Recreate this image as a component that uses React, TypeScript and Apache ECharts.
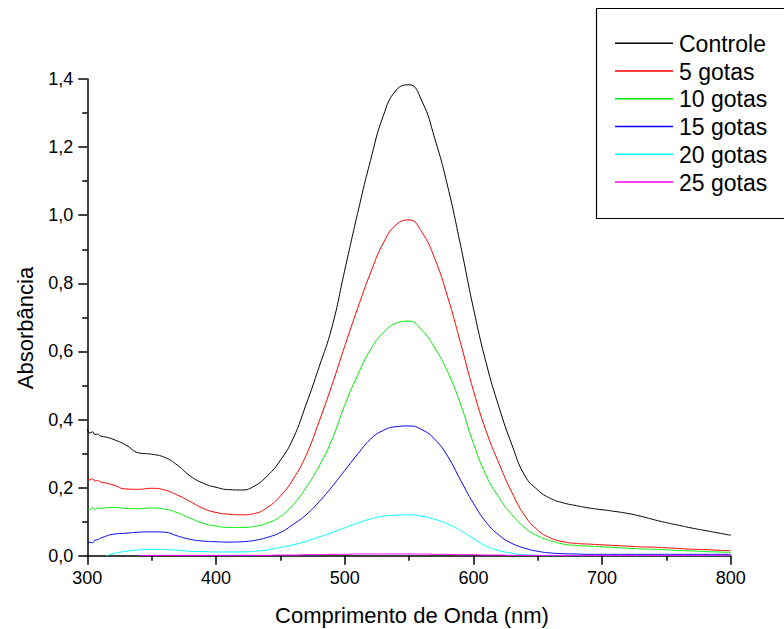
import React, { useEffect, useRef } from "react";
import * as echarts from "echarts";

const wavelengths = [
  300, 302, 304, 306, 308, 310, 315, 320, 330, 340, 350, 360, 370, 380, 390, 400,
  410, 420, 430, 440, 450, 460, 470, 480, 490, 500, 510, 520, 530, 540, 550, 560,
  570, 580, 590, 600, 610, 620, 630, 640, 650, 660, 670, 680, 690, 700, 710, 720,
  730, 740, 750, 760, 770, 780, 790, 800,
];

const controle = [
  0.372, 0.360, 0.364, 0.356, 0.357, 0.352, 0.348, 0.342, 0.325, 0.302, 0.298, 0.289, 0.266, 0.234, 0.213, 0.201,
  0.194, 0.193, 0.205, 0.235, 0.280, 0.345, 0.444, 0.553, 0.670, 0.838, 1.005, 1.160, 1.292, 1.367, 1.383, 1.335,
  1.225, 1.085, 0.912, 0.727, 0.565, 0.435, 0.325, 0.235, 0.193, 0.168, 0.155, 0.147, 0.140, 0.135, 0.130, 0.124,
  0.116, 0.106, 0.097, 0.089, 0.081, 0.074, 0.067, 0.060,
];

const gotas5 = [
  0.227, 0.222, 0.226, 0.219, 0.221, 0.217, 0.213, 0.208, 0.196, 0.195, 0.198, 0.193, 0.178, 0.159, 0.139, 0.127,
  0.122, 0.120, 0.124, 0.142, 0.175, 0.225, 0.295, 0.393, 0.500, 0.615, 0.726, 0.830, 0.918, 0.972, 0.986, 0.950,
  0.872, 0.760, 0.625, 0.485, 0.365, 0.270, 0.185, 0.117, 0.075, 0.052, 0.041, 0.036, 0.034, 0.032, 0.030, 0.028,
  0.026, 0.025, 0.023, 0.021, 0.019, 0.018, 0.016, 0.015,
];

const gotas10 = [
  0.139, 0.135, 0.141, 0.136, 0.140, 0.139, 0.141, 0.142, 0.139, 0.138, 0.140, 0.137, 0.126, 0.110, 0.095, 0.087,
  0.083, 0.083, 0.086, 0.096, 0.115, 0.150, 0.200, 0.262, 0.340, 0.442, 0.530, 0.605, 0.655, 0.683, 0.689, 0.662,
  0.610, 0.540, 0.445, 0.330, 0.235, 0.170, 0.120, 0.082, 0.058, 0.044, 0.034, 0.030, 0.028, 0.026, 0.024, 0.022,
  0.020, 0.019, 0.017, 0.015, 0.014, 0.012, 0.011, 0.010,
];

const gotas15 = [
  0.034, 0.040, 0.038, 0.046, 0.047, 0.051, 0.058, 0.063, 0.066, 0.069, 0.070, 0.069, 0.058, 0.048, 0.043, 0.041,
  0.040, 0.041, 0.045, 0.054, 0.068, 0.092, 0.120, 0.158, 0.202, 0.250, 0.298, 0.342, 0.368, 0.379, 0.381, 0.370,
  0.342, 0.292, 0.222, 0.154, 0.098, 0.060, 0.036, 0.022, 0.013, 0.008, 0.006, 0.005, 0.004, 0.004, 0.004, 0.004,
  0.004, 0.004, 0.004, 0.004, 0.004, 0.004, 0.004, 0.004,
];

const gotas20 = [
  null, null, null, null, null, null, 0.0, 0.006, 0.013, 0.017, 0.019, 0.018, 0.016, 0.013, 0.012, 0.011,
  0.011, 0.011, 0.013, 0.017, 0.024, 0.032, 0.042, 0.055, 0.068, 0.082, 0.096, 0.108, 0.116, 0.119, 0.120, 0.116,
  0.107, 0.093, 0.074, 0.050, 0.028, 0.015, 0.007, 0.003, 0.001, 0.0, 0.0, 0.0, 0.0, 0.0, 0.0, 0.0,
  0.0, 0.0, 0.0, 0.0, 0.0, 0.0, 0.0, 0.0,
];

const gotas25 = [
  null, null, null, null, null, null, null, null, null, 0.0, 0.001, 0.001, 0.001, 0.001, 0.001, 0.001,
  0.001, 0.001, 0.001, 0.001, 0.002, 0.002, 0.003, 0.003, 0.004, 0.004, 0.005, 0.005, 0.005, 0.005, 0.005, 0.005,
  0.004, 0.004, 0.003, 0.003, 0.002, 0.002, 0.001, 0.001, 0.001, 0.001, 0.001, 0.001, 0.001, 0.001, 0.001, 0.001,
  0.001, 0.001, 0.001, 0.001, 0.001, 0.001, 0.001, 0.001,
];

const seriesNames = ["Controle", "5 gotas", "10 gotas", "15 gotas", "20 gotas", "25 gotas"];
const seriesValues = [controle, gotas5, gotas10, gotas15, gotas20, gotas25];
const seriesColors = ["#000000", "#ff0000", "#00ee00", "#0000ff", "#00ffff", "#ff00ff"];

const xTitle = "Comprimento de Onda (nm)";
const yTitle = "Absorbância";

const FONT = 'Arial, "Liberation Sans", sans-serif';

export default function App() {
  const ref = useRef<HTMLDivElement>(null);
  useEffect(() => {
    if (!ref.current) return;
    const chart = echarts.init(ref.current, null, { renderer: "svg" });
    const series = seriesNames.map((name, i) => ({
      name,
      type: "line",
      data: wavelengths.map((w, j) => [w, seriesValues[i][j]]),
      showSymbol: false,
      symbol: "none",
      smooth: 0.5,
      connectNulls: false,
      lineStyle: { color: seriesColors[i], width: 1 },
      itemStyle: { color: seriesColors[i] },
      emphasis: { disabled: true },
    }));

    const legendTop = 43.3;
    const legendStep = 27.75;
    const legendGraphics: any[] = [];
    seriesNames.forEach((n, i) => {
      const y = legendTop + i * legendStep;
      legendGraphics.push({
        type: "line",
        shape: { x1: 615, y1: y, x2: 673, y2: y },
        style: { stroke: seriesColors[i], lineWidth: 1.4 },
        silent: true,
      });
      legendGraphics.push({
        type: "text",
        x: 679,
        y: y + 0.5,
        style: {
          text: n,
          fontSize: 23,
          fontFamily: FONT,
          fill: "#000",
          align: "left",
          verticalAlign: "middle",
        },
        silent: true,
      });
    });

    chart.setOption({
      animation: false,
      backgroundColor: "#ffffff",
      textStyle: { fontFamily: FONT },
      grid: {
        left: 87.3,
        right: 784 - 730.8,
        top: 79,
        bottom: 629 - 555.7,
        containLabel: false,
        outerBoundsMode: "none",
      },
      xAxis: {
        type: "value",
        min: 300,
        max: 800,
        interval: 100,
        axisLine: { show: true, onZero: false, lineStyle: { color: "#000", width: 1.5 } },
        axisTick: { show: true, inside: false, length: 9, lineStyle: { color: "#000", width: 1.5 } },
        minorTick: { show: true, splitNumber: 2, length: 5, lineStyle: { color: "#000", width: 1.5 } },
        splitLine: { show: false },
        axisLabel: { color: "#000", fontSize: 18, fontFamily: FONT, margin: 13 },
      },
      yAxis: {
        type: "value",
        min: 0,
        max: 1.4,
        interval: 0.2,
        axisLine: { show: true, onZero: false, lineStyle: { color: "#000", width: 1.5 } },
        axisTick: { show: true, inside: false, length: 9, lineStyle: { color: "#000", width: 1.5 } },
        minorTick: { show: true, splitNumber: 2, length: 5, lineStyle: { color: "#000", width: 1.5 } },
        splitLine: { show: false },
        axisLabel: {
          color: "#000",
          fontSize: 18,
          fontFamily: FONT,
          margin: 14,
          formatter: (v: number) => v.toFixed(1).replace(".", ","),
        },
      },
      graphic: [
        {
          type: "rect",
          shape: { x: 596.5, y: 8.5, width: 200, height: 210 },
          style: { fill: "#fff", stroke: "#000", lineWidth: 1.2 },
          silent: true,
        },
        ...legendGraphics,
        {
          type: "text",
          x: 412,
          y: 615,
          style: {
            text: xTitle,
            fontSize: 22,
            fontFamily: FONT,
            fill: "#000",
            align: "center",
            verticalAlign: "middle",
          },
        },
        {
          type: "text",
          x: 25.5,
          y: 328,
          rotation: Math.PI / 2,
          style: {
            text: yTitle,
            fontSize: 22,
            fontFamily: FONT,
            fill: "#000",
            align: "center",
            verticalAlign: "middle",
          },
        },
      ],
      series,
    });
    return () => chart.dispose();
  }, []);
  return (
    <div
      ref={ref}
      style={{ position: "fixed", left: 0, top: 0, width: 784, height: 629, background: "#fff" }}
    />
  );
}
